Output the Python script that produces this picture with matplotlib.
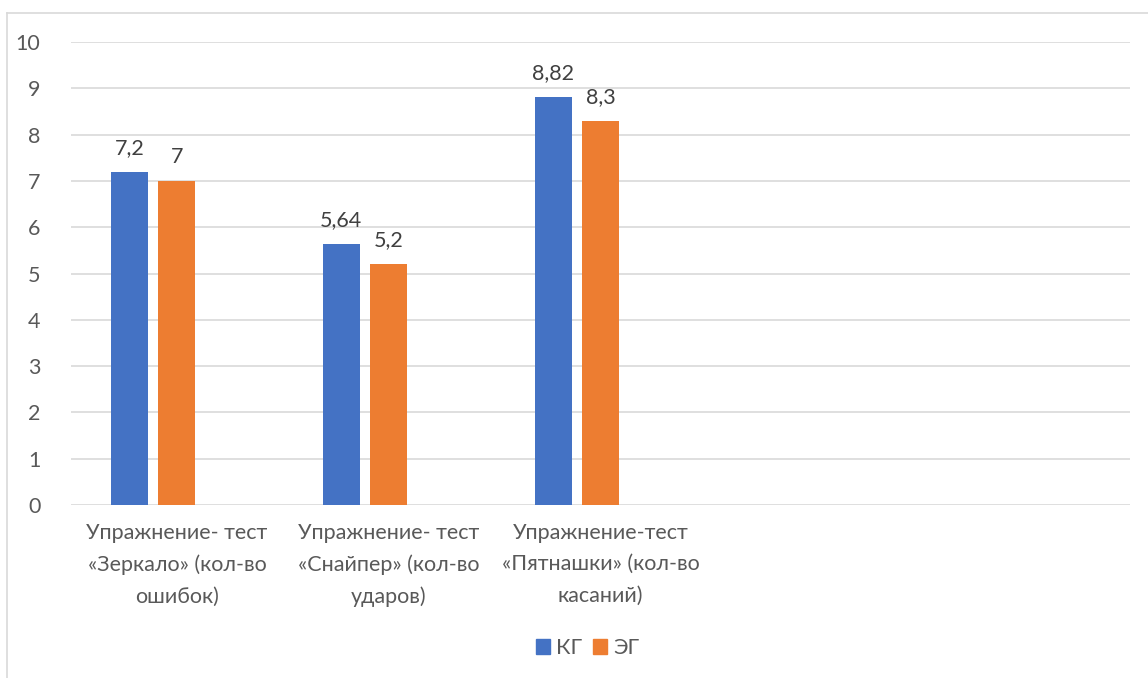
import matplotlib.pyplot as plt
from matplotlib.lines import Line2D
from matplotlib.patches import Patch
import numpy as np

plt.rcParams['font.family'] = ['Lato', 'DejaVu Sans']

categories = ["Упражнение- тест\n«Зеркало» (кол-во\nошибок)",
              "Упражнение- тест\n«Снайпер» (кол-во\nударов)",
              "Упражнение-тест\n«Пятнашки» (кол-во\nкасаний)",
              "", ""]
kg = [7.2, 5.64, 8.82]
eg = [7, 5.2, 8.3]
kg_labels = ["7,2", "5,64", "8,82"]
eg_labels = ["7", "5,2", "8,3"]

blue = '#4472C4'
orange = '#ED7D31'
grey_text = '#595959'
grid_col = '#D9D9D9'
fs = 15.5

W, H = 1148, 678
fig = plt.figure(figsize=(W / 100, H / 100), dpi=100)
ax = fig.add_axes([71 / W, (H - 505) / H, 1059 / W, 463 / H])

bw = 0.175
step = 0.224
x = np.arange(len(kg))
b1 = ax.bar(x - step, kg, width=bw, color=blue, zorder=3)
b2 = ax.bar(x, eg, width=bw, color=orange, zorder=3)

for bars, labs in ((b1, kg_labels), (b2, eg_labels)):
    for b, lab in zip(bars, labs):
        ax.annotate(lab, (b.get_x() + b.get_width() / 2, b.get_height()),
                    xytext=(0, 10), textcoords='offset points',
                    ha='center', va='bottom', fontsize=fs, color='#404040')

ax.set_xlim(-0.5, len(categories) - 0.5)
ax.set_ylim(0, 10)
ax.set_yticks(range(0, 11))
ax.set_xticks(range(len(categories)))
ax.set_xticklabels(categories, fontsize=fs, color=grey_text, linespacing=1.7)
ax.tick_params(axis='y', length=0, pad=22, labelsize=fs, labelcolor=grey_text)
ax.tick_params(axis='x', length=0, pad=13)
ax.grid(axis='y', color=grid_col, lw=1.2, zorder=0)
for s in ax.spines.values():
    s.set_visible(False)

# chart frame (top and left edges)
fig.add_artist(Line2D([7 / W, 1], [1 - 13 / H] * 2, color=grid_col, lw=1.2))
fig.add_artist(Line2D([7 / W] * 2, [0, 1 - 13 / H], color=grid_col, lw=1.2))

handles = [Patch(color=blue, label='КГ'), Patch(color=orange, label='ЭГ')]
fig.legend(handles=handles, loc='center', bbox_to_anchor=(588 / W, 1 - 648 / H),
           ncol=2, frameon=False, fontsize=fs, labelcolor=grey_text,
           handlelength=0.65, handleheight=0.65, handletextpad=0.3, columnspacing=0.5)

fig.savefig('out.png', dpi=100)
